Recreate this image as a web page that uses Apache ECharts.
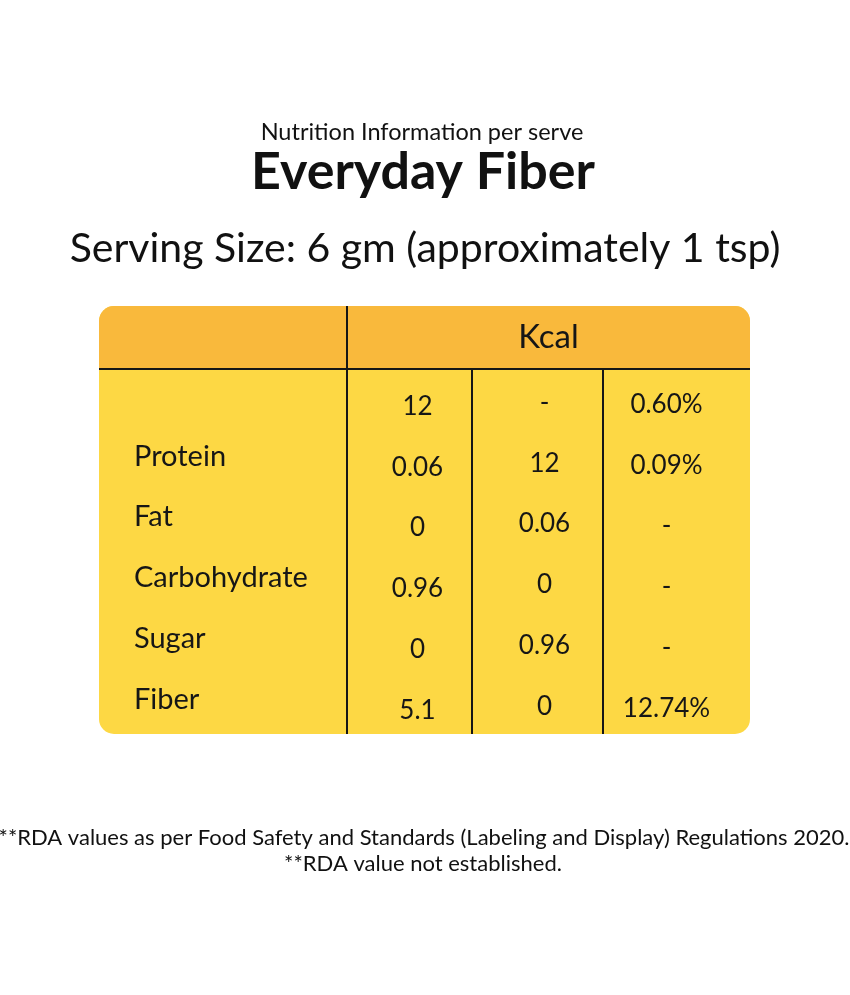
<!DOCTYPE html>
<html>
<head>
<meta charset="utf-8">
<script src="https://cdn.jsdelivr.net/npm/echarts@6/dist/echarts.min.js"></script>
<style>
  html, body { margin: 0; padding: 0; background: #fff; }
  #chart { width: 850px; height: 995px; }
</style>
</head>
<body>
<div id="chart"></div>
<script>
// table content
const rowNames = ['', 'Protein', 'Fat', 'Carbohydrate', 'Sugar', 'Fiber'];
const perServe = ['12', '0.06', '0', '0.96', '0', '5.1'];
const kcal = ['-', '12', '0.06', '0', '0.96', '0'];
const rda = ['0.60%', '0.09%', '-', '-', '-', '12.74%'];
const headerText = 'Kcal';

// layout of the table box
const box = {left: 99, right: 750, top: 306, head: 369, bottom: 734};
const colEdges = [99, 347, 472, 603, 750];
const FONT = 'Lato';
const INK = '#161616';

const columns = [
  {values: rowNames, align: 'left', dx: -89, dy: -4, size: 29},
  {values: perServe, align: 'center', dx: 8, dy: 7, size: 26},
  {values: kcal, align: 'center', dx: 7, dy: 3, size: 26},
  {values: rda, align: 'center', dx: -10, dy: 5, size: 26},
];

const grid = [], xAxis = [], yAxis = [], series = [];
columns.forEach((col, i) => {
  grid.push({
    left: colEdges[i],
    width: colEdges[i + 1] - colEdges[i],
    top: box.head,
    height: box.bottom - box.head,
  });
  xAxis.push({type: 'category', gridIndex: i, data: ['c'], show: false});
  yAxis.push({
    type: 'category', gridIndex: i, inverse: true,
    data: rowNames.map((_, k) => k), show: false,
  });
  series.push({
    type: 'scatter',
    xAxisIndex: i,
    yAxisIndex: i,
    symbolSize: 0,
    silent: true,
    itemStyle: {opacity: 1},
    data: col.values.map((v, k) => ({value: [0, k], text: v})),
    label: {
      show: true,
      position: 'inside',
      align: col.align,
      verticalAlign: 'middle',
      offset: [col.dx, col.dy],
      formatter: (p) => p.data.text,
      fontFamily: FONT,
      fontSize: col.size,
      color: INK,
      opacity: 1,
      textBorderWidth: 0,
    },
  });
});

const line = (x1, y1, x2, y2) => ({
  type: 'line',
  shape: {x1, y1, x2, y2},
  style: {stroke: INK, lineWidth: 2},
  z: 10,
});

const w = box.right - box.left;
const graphic = [
  // body and header fills
  {type: 'rect', shape: {x: box.left, y: box.top, width: w, height: box.bottom - box.top, r: 15},
    style: {fill: '#fdd844'}, z: 1},
  {type: 'rect', shape: {x: box.left, y: box.top, width: w, height: box.head - box.top, r: [15, 15, 0, 0]},
    style: {fill: '#f9b93c'}, z: 2},
  line(box.left, box.head, box.right, box.head),
  line(colEdges[1], box.top, colEdges[1], box.bottom),
  line(colEdges[2], box.head, colEdges[2], box.bottom),
  line(colEdges[3], box.head, colEdges[3], box.bottom),
  {type: 'text', x: (colEdges[1] + box.right) / 2, y: (box.top + box.head) / 2, z: 10,
    style: {text: headerText, font: `33px ${FONT}`, fill: INK, align: 'center', verticalAlign: 'middle'}},
  // titles
  {type: 'text', x: 422, y: 132, style: {text: 'Nutrition Information per serve', font: `23.5px ${FONT}`,
    fill: '#111', align: 'center', verticalAlign: 'middle'}},
  {type: 'text', x: 423, y: 172, style: {text: 'Everyday Fiber', font: `bold 52px ${FONT}`,
    fill: '#111', align: 'center', verticalAlign: 'middle'}},
  {type: 'text', x: 425, y: 249, style: {text: 'Serving Size: 6 gm (approximately 1 tsp)', font: `41px ${FONT}`,
    fill: '#111', align: 'center', verticalAlign: 'middle'}},
  // footnotes
  {type: 'text', x: 424, y: 838, style: {text: '**RDA values as per Food Safety and Standards (Labeling and Display) Regulations 2020.',
    font: `22px ${FONT}`, fill: '#111', align: 'center', verticalAlign: 'middle'}},
  {type: 'text', x: 423, y: 864, style: {text: '**RDA value not established.',
    font: `22px ${FONT}`, fill: '#111', align: 'center', verticalAlign: 'middle'}},
];

const chart = echarts.init(document.getElementById('chart'), null, {renderer: 'canvas'});
chart.setOption({
  backgroundColor: '#fff',
  animation: false,
  grid, xAxis, yAxis, series, graphic,
});
</script>
</body>
</html>
